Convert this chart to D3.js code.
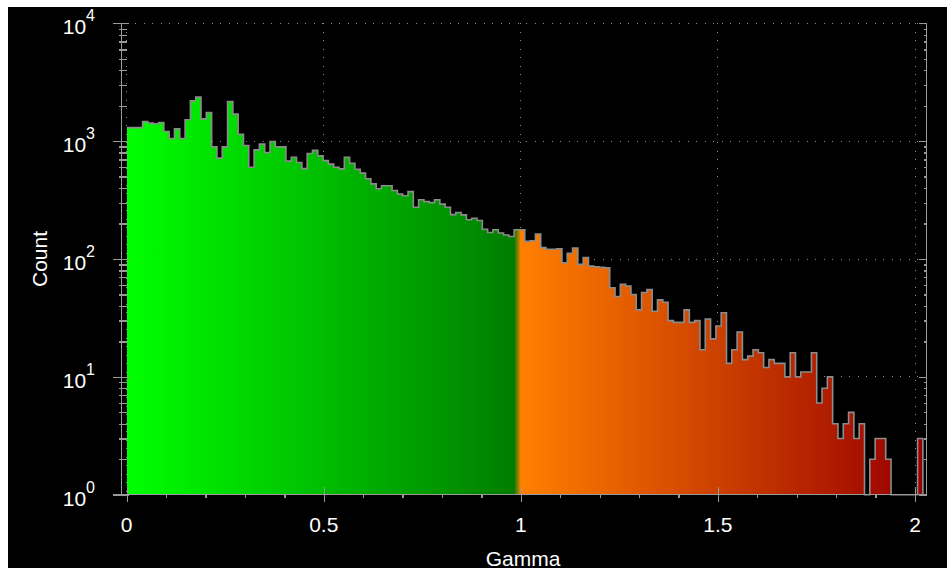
<!DOCTYPE html>
<html>
<head>
<meta charset="utf-8">
<script src="https://cdn.jsdelivr.net/npm/d3@7"></script>
<style>
  html, body { margin: 0; padding: 0; background: #fff; }
  svg { display: block; }
  text { font-family: "Liberation Sans", Arial, sans-serif; fill: #fff; }
</style>
</head>
<body>
<svg id="chart" width="947" height="568"></svg>
<script>
// Histogram of Gamma values: 150 equal bins over [0, 2.02]
const binStart = 0;
const binWidth = 2.02 / 150;
const counts = [
  1303, 1303, 1303, 1466, 1422, 1403, 1439, 1206, 1052, 1271,
  1052, 1517, 2198, 2362, 1546, 1750,  895,  718,  895, 2168,
  1695, 1146,  918,  601,  844,  943,  800,  993,  895,  895,
   677,  731,  658,  585,  785,  835,  750,  684,  638,  601,
   582,  731,  650,  578,  535,  479,  434,  394,  418,  418,
   381,  355,  344,  373,  275,  318,  307,  301,  318,  292,
   275,  238,  248,  237,  215,  222,  212,  179,  168,  177,
   166,  160,  155,  177,  177,  141,  143,  163,  125,  121,
   121,  122,   93,  112,  124,   90,  103,   87,   86,   85,
    84,   57,   48,   61,   59,   50,   37,   52,   55,   36,
    45,   43,   30,   29,   29,   37,   29,   30,   17,   31,
    21,   27,   35,   13,   17,   24,   14,   15,   17,   16,
    12,   14,   13,   13,   10,   16,   10,   11,   11,   16,
     6,    8,   10,    4,    3,    4,    5,    3,    4,    0,
     2,    3,    3,    2,    0,    0,    0,    0,    0,    3
];
const xTicks = [0, 0.5, 1, 1.5, 2];
const xTickLabels = ["0", "0.5", "1", "1.5", "2"];
const yDecades = [1, 10, 100, 1000, 10000];
const yExponents = ["0", "1", "2", "3", "4"];
const xTitle = "Gamma";
const yTitle = "Count";

const W = 947, H = 568;
const svg = d3.select("#chart");

// dark plotting panel
svg.append("rect").attr("x", 8).attr("y", 7)
  .attr("width", W - 8).attr("height", H - 7).attr("fill", "#000");

const x = d3.scaleLinear().domain([0, 2]).range([126.7, 915]);
const y = d3.scaleLog().domain([1, 1e4]).range([494.7, 23.3]);
const baseY = y(1);
const leftAxisX = 121.5, rightAxisX = 926.5, axisStartX = 113;
const axisColor = "#9a9a9a";

// fill: green shading below 1, orange-to-red above
const defs = svg.append("defs");
const grad = defs.append("linearGradient").attr("id", "gammaFill")
  .attr("gradientUnits", "userSpaceOnUse")
  .attr("x1", x(0)).attr("x2", x(2)).attr("y1", 0).attr("y2", 0);
[[0, "#00ff00"], [0.983, "#007d00"], [1.0, "#ff8000"], [2.0, "#990000"]]
  .forEach(([v, c]) => grad.append("stop")
    .attr("offset", (v - x.domain()[0]) / (x.domain()[1] - x.domain()[0]))
    .attr("stop-color", c));

// dotted grid
const grid = svg.append("g")
  .attr("stroke", "#8c8c8c").attr("stroke-width", 1)
  .attr("stroke-dasharray", "1,7.5").attr("shape-rendering", "crispEdges");
grid.selectAll("line.h").data(yDecades.slice(1)).join("line").attr("class", "h")
  .attr("x1", x(0)).attr("x2", rightAxisX)
  .attr("y1", d => y(d)).attr("y2", d => y(d));
grid.selectAll("line.v").data(xTicks).join("line").attr("class", "v")
  .attr("x1", d => x(d)).attr("x2", d => x(d))
  .attr("y1", y(1e4)).attr("y2", baseY);

// bins
const bins = counts.map((c, i) => ({
  x0: binStart + i * binWidth,
  x1: binStart + (i + 1) * binWidth,
  count: c
}));

svg.append("g").attr("shape-rendering", "crispEdges")
  .selectAll("rect").data(bins.filter(b => b.count > 0)).join("rect")
  .attr("x", d => x(d.x0))
  .attr("width", d => x(d.x1) - x(d.x0))
  .attr("y", d => y(Math.max(d.count, 1)))
  .attr("height", d => baseY - y(Math.max(d.count, 1)))
  .attr("fill", "url(#gammaFill)");

// stepped outline along the top of the histogram
const outlinePts = bins.map(b => [x(b.x0), y(Math.max(b.count, 1))]);
const last = bins[bins.length - 1];
outlinePts.push([x(last.x1), y(Math.max(last.count, 1))]);
outlinePts.push([x(last.x1), baseY]);
svg.append("path")
  .attr("d", d3.line().curve(d3.curveStepAfter)(outlinePts))
  .attr("fill", "none").attr("stroke", "#8c8c8c").attr("stroke-width", 1.6);

// axis lines
const axes = svg.append("g").attr("stroke", axisColor).attr("stroke-width", 1.3)
  .attr("shape-rendering", "crispEdges");
axes.append("line").attr("x1", axisStartX).attr("x2", rightAxisX + 0.6)
  .attr("y1", baseY).attr("y2", baseY);
axes.append("line").attr("x1", leftAxisX).attr("x2", leftAxisX)
  .attr("y1", y(1e4)).attr("y2", baseY + 1.5);
axes.append("line").attr("x1", rightAxisX).attr("x2", rightAxisX)
  .attr("y1", y(1e4)).attr("y2", baseY);

function styleTicks(g) {
  g.select(".domain").remove();
  g.selectAll(".tick line").attr("stroke", axisColor).attr("stroke-width", 1.3)
    .attr("shape-rendering", "crispEdges");
  g.selectAll(".tick text").remove();
}

// bottom axis: minor ticks every 0.1, major ticks at labels
const xMinor = d3.range(0, 21).map(i => i / 10).filter(v => !xTicks.includes(v));
svg.append("g").attr("transform", `translate(0,${baseY})`)
  .call(d3.axisBottom(x).tickValues(xMinor).tickSize(3.5).tickFormat(""))
  .call(styleTicks);
svg.append("g").attr("transform", `translate(0,${baseY})`)
  .call(d3.axisBottom(x).tickValues(xTicks).tickSize(7).tickFormat(""))
  .call(styleTicks)
  .call(g => g.selectAll(".tick line").attr("y1", -8));

// left axis: crossing ticks
const yMinor = y.ticks().filter(v => !yDecades.includes(v));
svg.append("g").attr("transform", `translate(${leftAxisX},0)`)
  .call(d3.axisLeft(y).tickValues(yMinor).tickSize(3).tickFormat(""))
  .call(styleTicks)
  .call(g => g.selectAll(".tick line").attr("x1", 5.5));
svg.append("g").attr("transform", `translate(${leftAxisX},0)`)
  .call(d3.axisLeft(y).tickValues(yDecades).tickSize(8.5).tickFormat(""))
  .call(styleTicks)
  .call(g => g.selectAll(".tick line").attr("x1", 7));

// right axis: inward ticks
svg.append("g").attr("transform", `translate(${rightAxisX},0)`)
  .call(d3.axisLeft(y).tickValues(yMinor).tickSize(3).tickFormat(""))
  .call(styleTicks);
svg.append("g").attr("transform", `translate(${rightAxisX},0)`)
  .call(d3.axisLeft(y).tickValues(yDecades).tickSize(8).tickFormat(""))
  .call(styleTicks);

// x tick labels
svg.append("g").selectAll("text").data(xTicks).join("text")
  .attr("x", d => x(d)).attr("y", 531.5)
  .attr("text-anchor", "middle").attr("font-size", 21)
  .text((d, i) => xTickLabels[i]);

// y tick labels as powers of ten
const yl = svg.append("g").selectAll("text").data(yDecades).join("text")
  .attr("x", 95).attr("y", d => y(d) + 11)
  .attr("text-anchor", "end").attr("font-size", 21);
yl.append("tspan").text("10");
yl.append("tspan").attr("dy", -13).attr("font-size", 16).text((d, i) => yExponents[i]);

// axis titles
svg.append("text").attr("x", 523).attr("y", 565.5)
  .attr("text-anchor", "middle").attr("font-size", 21).text(xTitle);
svg.append("text").attr("transform", `translate(46.5,${(y(1) + y(1e4)) / 2}) rotate(-90)`)
  .attr("text-anchor", "middle").attr("font-size", 21).text(yTitle);
</script>
</body>
</html>
